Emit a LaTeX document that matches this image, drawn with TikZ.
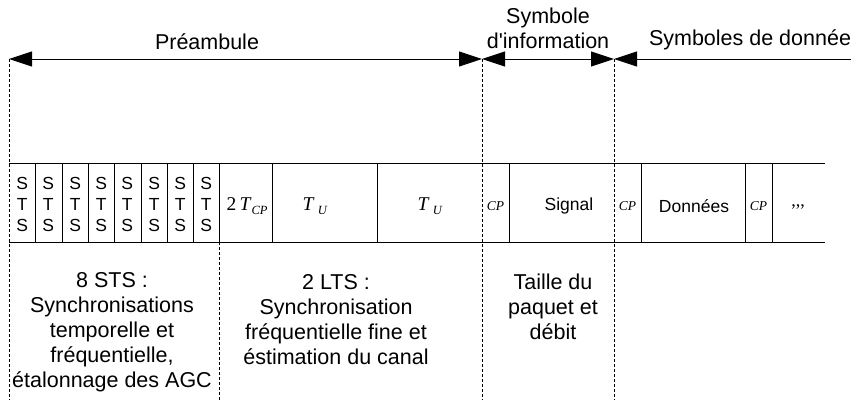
\documentclass[tikz,border=0pt]{standalone}
\usepackage{fontspec}
\setmainfont{Liberation Sans}
\newfontfamily\timesfont{Liberation Serif}
\usetikzlibrary{arrows.meta,positioning}
\tikzset{
  bigtri/.tip={Triangle[length=23pt,width=15pt]},
  span/.style={line width=0.9pt},
  guide/.style={line width=0.7pt, dash pattern=on 3pt off 2pt},
  cellline/.style={line width=0.8pt},
  label/.style={font=\fontsize{21.5}{25}\selectfont, inner sep=0pt, align=center},
  celltxt/.style={font=\fontsize{17.5}{21}\selectfont, inner sep=0pt},
  ststxt/.style={font=\fontsize{17.5}{21}\selectfont, inner sep=0pt, align=center},
  cptxt/.style={font=\timesfont\itshape\fontsize{13.5}{13.5}\selectfont, inner sep=0pt},
  timetxt/.style={font=\timesfont\fontsize{19.5}{19.5}\selectfont, inner sep=0pt}
}
\newcommand{\subit}[1]{\raisebox{-0.45ex}{\fontsize{12.5}{12.5}\selectfont\textit{#1}}}

\begin{document}
\begin{tikzpicture}[x=1pt, y=-1pt]
  \useasboundingbox (0,0) rectangle (862,402);

  % top arrows
  \coordinate (p0) at (9,59);
  \coordinate (p1) at (482,59);
  \coordinate (p2) at (614,59);
  \coordinate (p3) at (851,59);
  \draw[span, bigtri-bigtri] (p0) -- (p1);
  \draw[span, bigtri-bigtri] (p1) -- (p2);
  \draw[span, bigtri-] (p2) -- (p3);

  \node[label] (pre)  at (207,42) {Préambule};
  \node[label] (info) at (548,28) {Symbole\\d\textquotesingle information};
  \node[label] (data) at (750,40) {Symboles de donnée};

  % dashed guides
  \foreach \x/\ya in {9/59, 482/59, 614/59, 219/242}
    \draw[guide] (\x,\ya) -- (\x,400);

  % frame
  \draw[cellline] (9,163) -- (825,163);
  \draw[cellline] (9,242) -- (825,242);
  \foreach \x in {35,62,88,114,141,167,193,219,272,377,509,641,745,772}
    \draw[cellline] (\x,163) -- (\x,242);

  % cell contents
  \foreach \x [count=\n] in {9,35,62,88,114,141,167,193}
    \node[ststxt] (sts\n) at (\x+13.2,204) {S\\T\\S};
  \node[timetxt] (tcp) at (247,206) {2\,\textit{T}\subit{CP}};
  \node[timetxt] (tu1) at (315,206) {\textit{T}\,\subit{U}};
  \node[timetxt] (tu2) at (430,206) {\textit{T}\,\subit{U}};
  \node[cptxt] (cp1) at (495.5,206) {CP};
  \node[celltxt] (sig) at (569,206) {Signal};
  \node[cptxt] (cp2) at (627.5,206) {CP};
  \node[celltxt] (don) at (694,206) {Données};
  \node[cptxt] (cp3) at (758.5,206) {CP};
  \node[inner sep=0pt, font=\timesfont\fontsize{18}{18}\selectfont] (more) at (798,207) {,,,};

  % descriptions
  \node[label] (dsts) at (112,332) {8 STS :\\Synchronisations\\temporelle et\\fréquentielle,\\étalonnage des AGC};
  \node[label] (dlts) at (336,320) {2 LTS :\\Synchronisation\\fréquentielle fine et\\éstimation du canal};
  \node[label] (dsig) at (553,307) {Taille du\\paquet et\\débit};
\end{tikzpicture}
\end{document}
